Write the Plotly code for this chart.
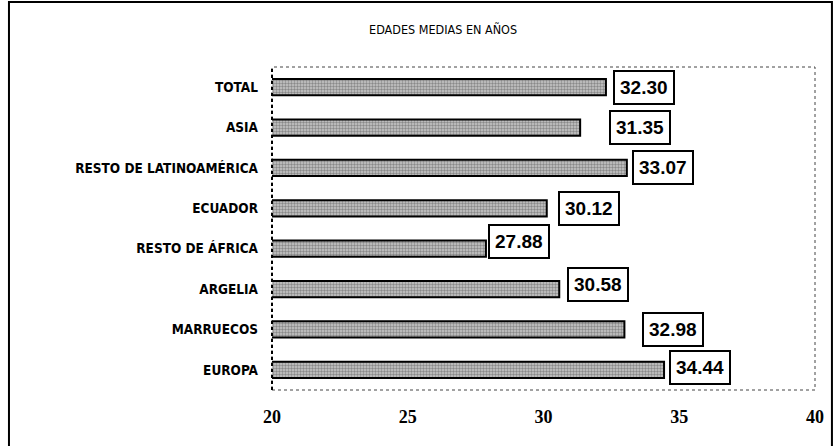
import plotly.graph_objects as go

# edades medias por origen
categorias = ["TOTAL", "ASIA", "RESTO DE LATINOAMÉRICA", "ECUADOR",
              "RESTO DE ÁFRICA", "ARGELIA", "MARRUECOS", "EUROPA"]
edades = [32.30, 31.35, 33.07, 30.12, 27.88, 30.58, 32.98, 34.44]
ticks_x = [20, 25, 30, 35, 40]

# little nudges so the boxed labels sit where they do in the print
label_dx = [7, 29, 5, 11, 2, 8, 18, 5]
label_dy = [0, 0, 0, 0, 7, 5, 0, 2]

W, H = 836, 446
L, R, T, B = 272, 19, 67, 56
pw, ph = W - L - R, H - T - B

narrow = "DejaVu Sans Condensed, Liberation Sans Narrow, Arial Narrow, sans-serif"

fig = go.Figure()
fig.add_trace(go.Bar(
    x=edades,
    y=categorias,
    orientation='h',
    width=0.4,
    marker=dict(
        color='#a8a8a8',
        line=dict(color='black', width=2),
        pattern=dict(shape='.', size=3, solidity=0.5, fgcolor='#4a4a4a', bgcolor='#c8c8c8')
    ),
    hoverinfo='skip'
))

for c, v, dx, dy in zip(categorias, edades, label_dx, label_dy):
    fig.add_annotation(
        x=v, y=c, text='%.2f' % v,
        xanchor='left', yanchor='middle', showarrow=False,
        xshift=dx, yshift=dy,
        font=dict(family='Liberation Sans, Arial, sans-serif', size=19, color='black', weight='bold'),
        bgcolor='white', bordercolor='black', borderwidth=2, borderpad=5
    )

# dotted frame of the plot area and darker left axis
fig.add_shape(type='rect', xref='paper', yref='paper', x0=0, x1=1, y0=0, y1=1,
              line=dict(color='#444444', width=1, dash='dot'), layer='below')
fig.add_shape(type='line', xref='paper', yref='paper', x0=0, x1=0, y0=0, y1=1,
              line=dict(color='black', width=2, dash='dot'))

# outer frame around the whole figure
fig.add_shape(type='rect', xref='paper', yref='paper',
              x0=(8 - L) / pw, x1=(834 - L) / pw,
              y0=-(H + 10 - T - ph) / ph, y1=1 + (T - 2) / ph,
              line=dict(color='black', width=2))

fig.update_layout(
    width=W, height=H,
    margin=dict(l=L, r=R, t=T, b=B),
    paper_bgcolor='white', plot_bgcolor='white',
    showlegend=False,
    bargap=0.6,
    title=dict(text='EDADES MEDIAS EN AÑOS', x=0.53, xanchor='center',
               y=1 - 30 / H, yanchor='middle',
               font=dict(family=narrow, size=12.5, color='black')),
    xaxis=dict(range=[20, 40], tickvals=ticks_x, showgrid=False, zeroline=False,
               showline=False, ticks='', ticklabelstandoff=14,
               tickfont=dict(family='Liberation Serif, Times New Roman, serif', size=18,
                             color='black', weight='bold')),
    yaxis=dict(categoryorder='array', categoryarray=categorias, autorange='reversed',
               showgrid=False, zeroline=False, showline=False, ticks='',
               ticklabelstandoff=13,
               tickfont=dict(family=narrow, size=13.5, color='black', weight='bold')),
)

fig.write_html("out.html", config={'displayModeBar': False},
               post_script="document.body.style.margin='0px';")
